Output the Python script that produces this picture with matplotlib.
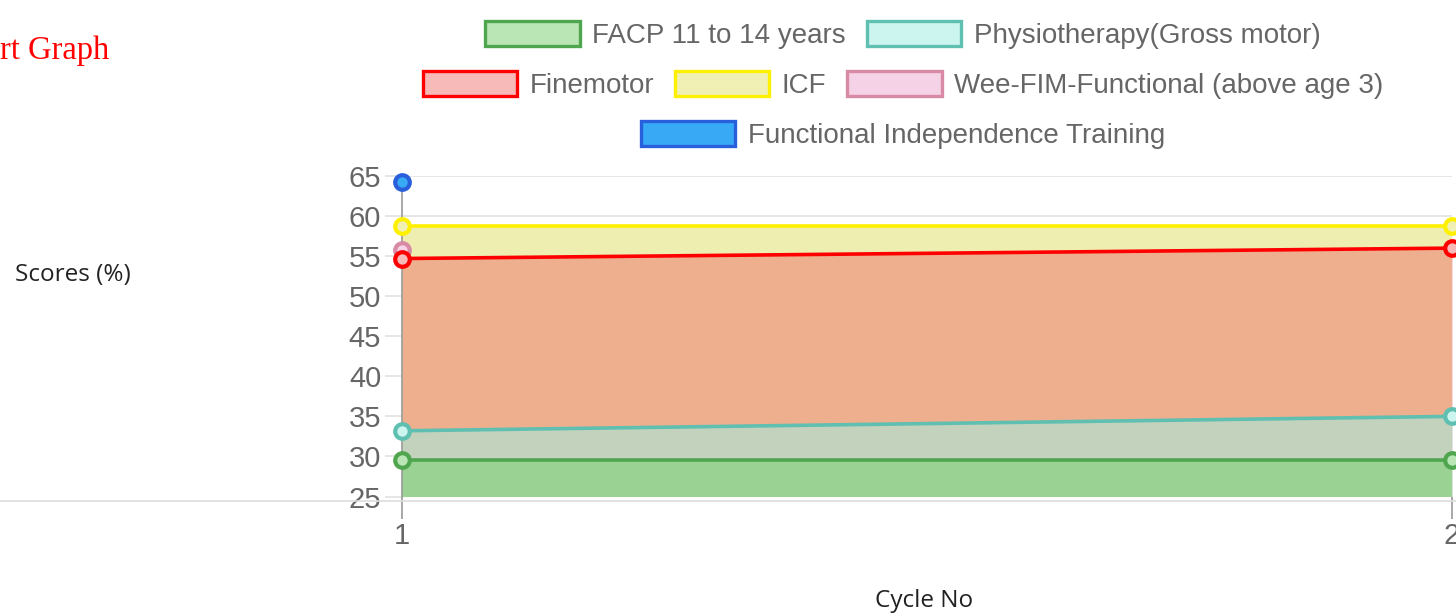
import numpy as np
import matplotlib.pyplot as plt
from matplotlib.patches import Patch
from matplotlib.lines import Line2D

# Cycle numbers on the x axis
cycles = [1, 2]

# Scores (%) per dataset; NaN where a cycle has no value
facp = [29.5, 29.5]
physio = [33.2, 35.0]
finemotor = [54.7, 56.0]
icf = [58.8, 58.8]
weeFim = [55.8, np.nan]
fit = [64.2, np.nan]

yTicks = [25, 30, 35, 40, 45, 50, 55, 60, 65]

# label, line colour, legend fill, area fill (colour, alpha)
series = [
    ("FACP 11 to 14 years", facp, "#4fa64f", "#b9e6b4", ("#72d36a", 0.5)),
    ("Physiotherapy(Gross motor)", physio, "#5fbfb0", "#cdf5f0", ("#9bf6ed", 0.5)),
    ("Finemotor", finemotor, "#ff0000", "#f8b9b9", ("#eb1f42", 0.3)),
    ("ICF", icf, "#fff000", "#f0f0b4", ("#eeeeb0", 1.0)),
    ("Wee-FIM-Functional (above age 3)", weeFim, "#d98aa5", "#f5d2e6", None),
    ("Functional Independence Training", fit, "#2a5fdc", "#38aaf5", None),
]

fig = plt.figure(figsize=(14.56, 6.15), dpi=100)
ax = fig.add_axes([402 / 1456, 1 - 496.5 / 615, 1050 / 1456, 320.5 / 615])

# Chart.js draws the last dataset first, so fills go bottom-up in reverse
for label, values, lineColor, legendFill, area in reversed(series):
    if area is not None:
        ax.fill_between(cycles, 25, values, color=area[0], alpha=area[1], linewidth=0, zorder=1)

for label, values, lineColor, legendFill, area in reversed(series):
    ax.plot(cycles, values, color=lineColor, linewidth=2.6, zorder=3,
            marker="o", markersize=10.5, markeredgewidth=3,
            markerfacecolor=legendFill, markeredgecolor=lineColor, clip_on=False)

ax.set_xlim(1, 2)
ax.set_ylim(25, 65)
ax.set_yticks(yTicks)
ax.set_xticks(cycles)
ax.grid(axis="y", color="#e2e2e2", linewidth=1.2, zorder=0)
ax.set_axisbelow(True)
for side in ["top", "right", "bottom"]:
    ax.spines[side].set_visible(False)
ax.spines["left"].set_color("#9a9a9a")
ax.spines["left"].set_linewidth(1.2)
ax.tick_params(axis="y", length=12, color="#e2e2e2", width=1.2, labelsize=21, labelcolor="#666666", pad=3)
ax.tick_params(axis="x", length=16, color="#9a9a9a", width=1.2, labelsize=21, labelcolor="#666666", pad=2)
for t in ax.get_xticklabels() + ax.get_yticklabels():
    t.set_fontfamily("Liberation Sans")

# long baseline under the whole chart
fig.add_artist(Line2D([0, 1], [1 - 501 / 615] * 2, color="#dddddd", linewidth=1.2))

fig.text(924 / 1456, 1 - 601 / 615, "Cycle No", ha="center", va="center",
         fontsize=17.5, color="#222222", family="Open Sans")
fig.text(15 / 1456, 1 - 275 / 615, "Scores (%)", ha="left", va="center",
         fontsize=17.5, color="#222222", family="Open Sans")
fig.text(0, 1 - 51 / 615, "rt Graph", ha="left", va="center",
         fontsize=23.5, color="#ff0000", family="Liberation Serif")

# legend rows as Chart.js wraps them
handles = [Patch(facecolor=s[3], edgecolor=s[2], linewidth=2.4, label=s[0]) for s in series]
rows = [(handles[0:2], 35), (handles[2:5], 85), (handles[5:6], 135)]
for rowHandles, yPix in rows:
    leg = fig.legend(handles=rowHandles, ncol=len(rowHandles), loc="center",
                     bbox_to_anchor=(903 / 1456, 1 - yPix / 615), frameon=False,
                     prop={"family": "Liberation Sans", "size": 20},
                     handlelength=3.4, handleheight=1.0, handletextpad=0.45,
                     columnspacing=0.75, borderpad=0, borderaxespad=0)
    for t in leg.get_texts():
        t.set_color("#666666")

fig.savefig("out.png", dpi=100)
